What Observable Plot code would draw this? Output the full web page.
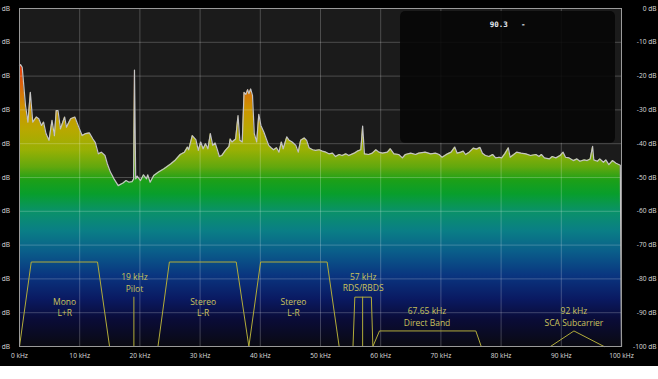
<!DOCTYPE html>
<html><head><meta charset="utf-8">
<script src="https://cdn.jsdelivr.net/npm/d3@7"></script>
<script src="https://cdn.jsdelivr.net/npm/@observablehq/plot@0.6"></script>
<style>
html,body{margin:0;padding:0;background:#fff;}
#chart svg{display:block;background:#000;}
</style></head><body><div id="chart"></div>
<script>
// Spectrum (kHz, dB)
const freqKHz = [0,0.17,0.45,1.0,1.4,1.8,2.2,2.8,3.2,3.65,4.0,4.4,4.9,5.4,5.8,6.1,6.4,6.8,7.5,7.8,8.5,9.2,9.85,10.4,11.0,11.6,12.2,12.6,13.1,13.6,14.2,14.6,15.1,15.7,16.4,17.2,17.7,18.2,18.7,18.95,19.1,19.3,19.55,20.1,20.6,21.1,21.3,21.7,22.3,23.1,24.0,25.1,25.9,26.7,27.4,27.9,28.1,28.7,29.3,29.7,30.1,30.5,30.9,31.3,31.7,32.1,32.5,32.9,33.2,33.6,34.2,34.8,35.0,35.3,35.9,36.3,36.6,37.0,37.3,37.6,37.9,38.1,38.4,38.7,39.0,39.4,39.75,40.1,40.6,41.0,41.4,41.8,42.2,42.7,43.1,43.5,43.8,44.4,44.8,45.3,45.9,46.3,46.7,47.3,47.7,48.1,48.7,49.2,49.8,50.3,50.9,51.4,52.0,52.5,53.1,53.6,54.2,54.7,55.6,56.1,56.7,57.0,57.3,58.0,58.6,59.2,59.7,60.3,61.1,61.6,62.2,63.0,63.6,64.1,65.0,65.8,66.3,67.4,68.3,69.1,69.7,70.2,71.1,71.7,72.3,72.7,73.3,73.7,74.1,74.7,75.4,75.9,76.5,76.9,77.4,78.0,78.6,79.1,79.7,80.1,80.6,81.2,81.5,82.1,82.6,83.3,84.1,84.9,85.8,86.3,86.7,87.2,88.0,88.5,89.1,89.8,90.3,90.7,91.3,92.0,92.6,93.1,93.8,94.3,94.8,95.2,95.4,96.0,96.4,97.0,97.4,97.9,98.5,99.1,99.8,100];
const levelDb = [-17,-16.6,-17.4,-28.7,-33.6,-24.8,-33.6,-32.1,-32.6,-34.6,-33.6,-37,-39,-33.1,-37.6,-30.2,-30.2,-35.6,-32.1,-35.1,-32.6,-32.1,-35.1,-37.6,-37,-36.8,-38.6,-39.7,-43,-42.5,-43.5,-46,-48.4,-50.4,-52.4,-51.6,-50.9,-51.4,-51.2,-50.5,-18.2,-50.4,-49.6,-50.9,-49.2,-50.4,-49.2,-51.4,-49.4,-48.4,-47.4,-46,-44.8,-43.2,-42.5,-41,-41.8,-37.6,-38.8,-42,-39.5,-41.5,-40,-41.5,-37,-40.5,-39.8,-42,-43.8,-43.5,-42,-40.8,-38.6,-39.5,-38.6,-31.7,-39,-39.5,-24.8,-25.4,-24,-25.2,-23.8,-25.7,-37,-39.5,-31.3,-34.6,-36.6,-38.6,-40.5,-41.2,-41.8,-41.2,-42.5,-39.5,-41.5,-38,-39,-39.5,-40.5,-42.5,-39,-38.3,-39,-41.2,-41.8,-42,-41.8,-42.2,-42.5,-43,-42.8,-43.8,-43.2,-43.5,-43,-43.5,-42.8,-42.2,-41.8,-34.8,-43,-43.2,-42.8,-41.8,-42.5,-42.8,-42.5,-41.5,-43,-43.2,-44.2,-43.2,-42.8,-43.2,-42.8,-42.5,-43,-42.8,-43.2,-44,-43,-42.5,-41,-42.8,-42.5,-42.2,-43.2,-42.5,-41.3,-41.6,-41.1,-42.8,-43.5,-43.8,-43.2,-44.2,-44,-44.2,-43,-41.2,-44,-43.2,-42.5,-42.8,-43,-43.5,-43.2,-43.8,-43.2,-44.2,-44.5,-43.8,-44.2,-43.5,-42.5,-44,-44.2,-45,-44.5,-45.2,-44.8,-45,-44.5,-40.8,-44.8,-45.2,-44.5,-45.5,-44.8,-46.2,-45,-45.8,-46.4,-100];

const xTicks = [0,10,20,30,40,50,60,70,80,90,100];
const yTicks = [0,-10,-20,-30,-40,-50,-60,-70,-80,-90,-100];

// MPX band outlines (kHz, dB)
const bandNames = ["mono","pilot","stereo1","stereo2","rds","rdsMid","direct","sca"];
const bandKHz = [
  [0,1.95,12.96,14.96],
  [19,19],
  [23,24.9,36,38.1],
  [38.1,40.05,51.1,53.1],
  [55.4,55.7,58.45,58.7],
  [57,57],
  [58.7,59.8,75.8,76.7],
  [88.2,92.1,97.1]
];
const bandDb = [
  [-100,-75,-75,-100],
  [-100,-85.4],
  [-100,-75,-75,-100],
  [-100,-75,-75,-100],
  [-100,-85.4,-85.4,-100],
  [-100,-85.4],
  [-100,-95.4,-95.4,-100],
  [-100,-95.4,-100]
];

// Band labels
const labelText = ["19 kHz\nPilot","Mono\nL+R","Stereo\nL-R","Stereo\nL-R","57 kHz\nRDS/RBDS","67.65 kHz\nDirect Band","92 kHz\nSCA Subcarrier"];
const labelKHz = [19.1,7.5,30.5,45.5,57.1,67.7,92.1];
const labelDb = [-81.0,-88.3,-88.3,-88.3,-80.9,-91.1,-91.1];

// Readout panel
const panelKHz = [63.3,99.0];
const panelDb = [-39.9,-0.9];
const readoutText = ["90.3","-"];
const readoutKHz = [79.6,83.7];
const readoutDb = [-4.9,-4.9];

// Gradient stops (dB -> colour)
const gradDb =    [0,-15,-20,-25,-30,-36,-42,-47,-51,-55,-60,-66,-72,-79,-86,-92,-100];
const gradColor = ["#ff1206","#ea2a0c","#e0500e","#d47408","#cc9600","#b8a800","#98b004","#62a80e","#1ca018","#089e2c","#0a9268","#0a7e86","#0a5e8a","#0a3680","#0a1a62","#0a0c38","#0a0a12"];

const spec = freqKHz.map((f,i)=>({f, db: levelDb[i]}));
const bandPts = bandNames.flatMap((n,i)=>bandKHz[i].map((f,j)=>({band:n, f, db: bandDb[i][j]})));
const labels = labelText.map((t,i)=>({t, f: labelKHz[i], db: labelDb[i]}));
const panel = [{x1: panelKHz[0], x2: panelKHz[1], y1: panelDb[0], y2: panelDb[1]}];
const readout = readoutText.map((t,i)=>({t, f: readoutKHz[i], db: readoutDb[i]}));

const font = "'Open Sans', sans-serif";
const plot = Plot.plot({
  width: 658, height: 366,
  marginLeft: 19, marginRight: 37, marginTop: 8, marginBottom: 20,
  x: {domain: [0,100], axis: null},
  y: {domain: [-100,0], axis: null},
  style: {background: "#000", fontFamily: font},
  marks: [
    Plot.frame({fill: "#1b1b1b"}),
    Plot.areaY(spec, {x: "f", y1: () => -100, y2: "db", fill: "url(#mpxGrad)"}),
    Plot.ruleX(xTicks, {x: d=>d, stroke: "#fff", strokeOpacity: 0.22}),
    Plot.ruleY(yTicks, {y: d=>d, stroke: "#fff", strokeOpacity: 0.22}),
    Plot.rect(panel, {x1: "x1", x2: "x2", y1: "y1", y2: "y2", rx: 5, fill: "#060606", fillOpacity: 0.88}),
    Plot.line(spec, {x: "f", y: "db", stroke: "#c4c4c4", strokeWidth: 1.2}),
    Plot.line(bandPts, {x: "f", y: "db", z: "band", stroke: "#b2ac3a", strokeWidth: 1}),
    Plot.text(labels, {x: "f", y: "db", text: "t", fill: "#c9c35c", fontSize: 8.5, lineHeight: 1.36, fontFamily: font}),
    Plot.frame({stroke: "#9a9a9a"}),
    Plot.text(xTicks, {x: d=>d, frameAnchor: "bottom", dy: 11, text: d=>`${d} kHz`, fill: "#dcdcdc", fontSize: 6.6, fontFamily: font}),
    Plot.text(yTicks, {y: d=>d, frameAnchor: "right", dx: 35, textAnchor: "end", text: d=>`${d} dB`, fill: "#dcdcdc", fontSize: 6.6, fontFamily: font}),
    Plot.text(yTicks, {y: d=>d, frameAnchor: "left", dx: -9.5, textAnchor: "end", text: d=>`${d} dB`, fill: "#dcdcdc", fontSize: 6.6, fontFamily: font}),
    Plot.text(readout, {x: "f", y: "db", text: "t", fill: "#e6ecf4", fontSize: 7.5, fontWeight: "bold", fontFamily: "'DejaVu Sans Mono', monospace"})
  ]
});

const svg = plot.tagName.toLowerCase() === "svg" ? plot : plot.querySelector("svg");
const ns = "http://www.w3.org/2000/svg";
const ys = plot.scale("y");
const defs = document.createElementNS(ns, "defs");
const lg = document.createElementNS(ns, "linearGradient");
lg.setAttribute("id", "mpxGrad");
lg.setAttribute("gradientUnits", "userSpaceOnUse");
lg.setAttribute("x1", 0); lg.setAttribute("x2", 0);
lg.setAttribute("y1", ys.apply(0)); lg.setAttribute("y2", ys.apply(-100));
gradDb.forEach((d,i)=>{
  const s = document.createElementNS(ns, "stop");
  s.setAttribute("offset", (-d/100));
  s.setAttribute("stop-color", gradColor[i]);
  lg.appendChild(s);
});
defs.appendChild(lg);
svg.insertBefore(defs, svg.firstChild);
document.getElementById("chart").appendChild(plot);
</script>
</body></html>
